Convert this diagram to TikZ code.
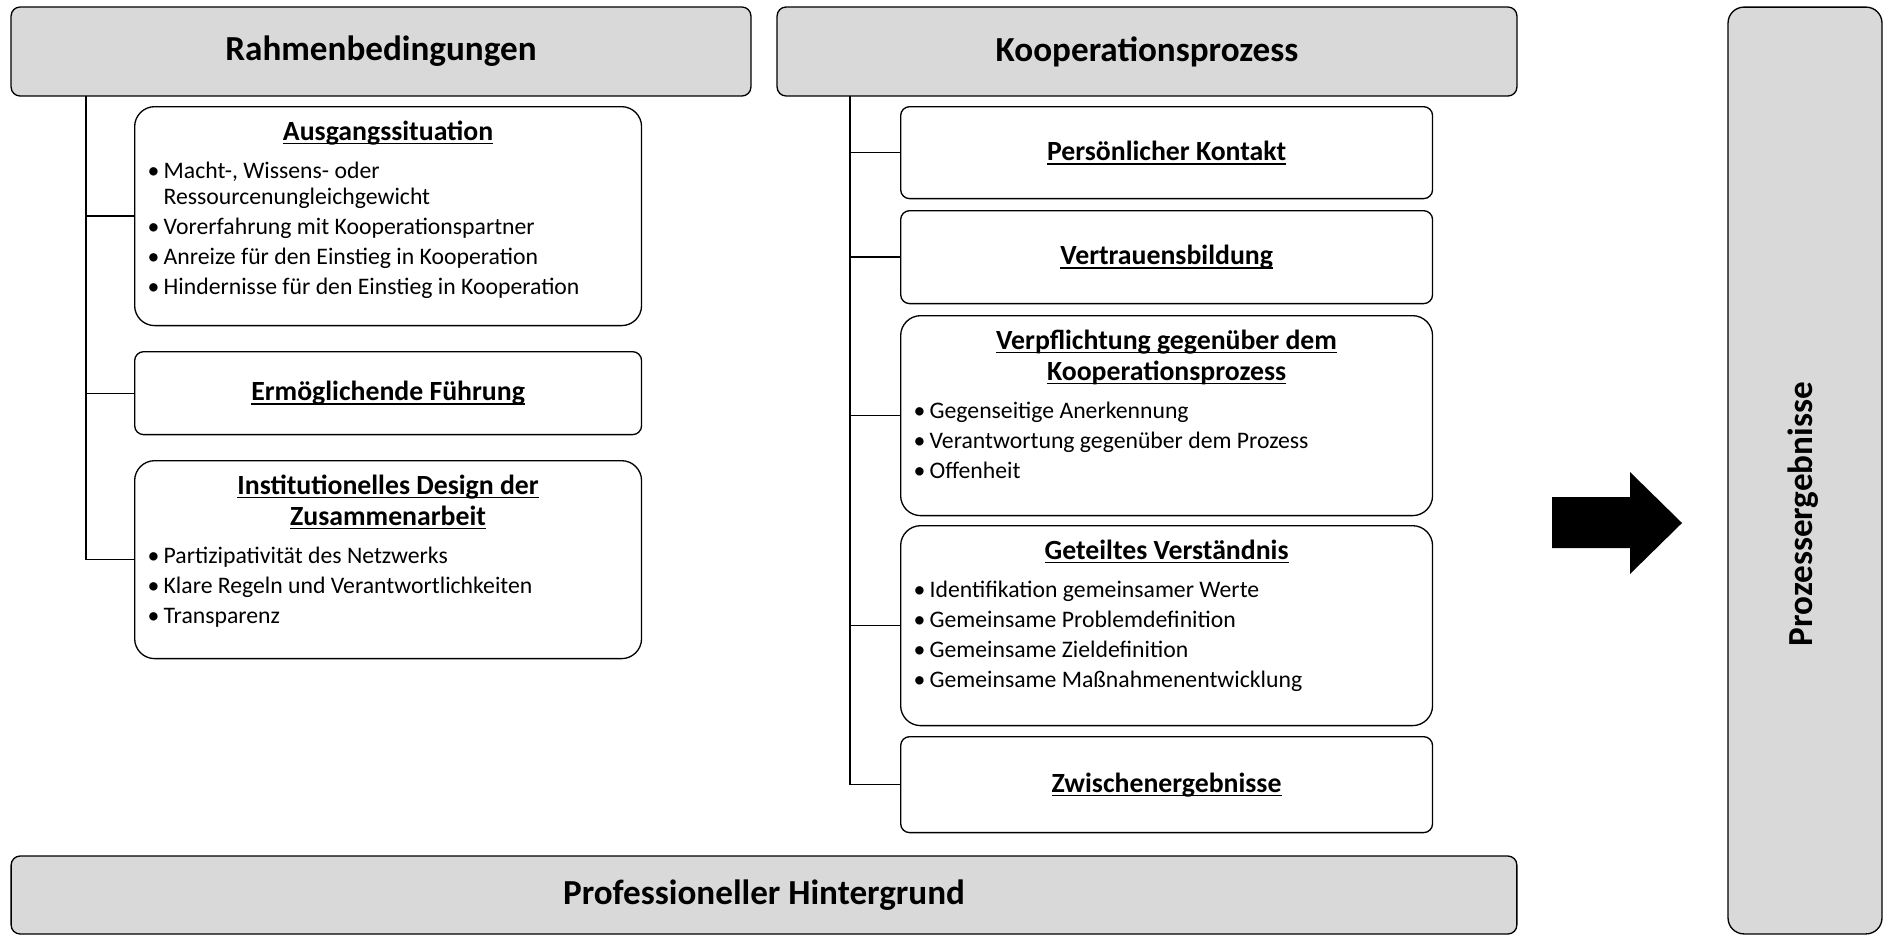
\documentclass[tikz,border=0pt]{standalone}
\usepackage{fontspec}
\setmainfont{Carlito}
\definecolor{hdgray}{RGB}{217,217,217}
\usetikzlibrary{positioning}
\newcommand{\ttlfont}{\fontsize{15.8}{17.6}\selectfont\bfseries}
\newcommand{\sect}[1]{\leavevmode\setbox0=\hbox{#1}\rlap{\rule[-2.4pt]{\wd0}{0.9pt}}\box0}
\newcommand{\itm}[1]{\par\hangindent=0.32cm\hangafter=1\noindent\makebox[0.32cm][l]{\textbullet}#1}
\newcommand{\boxtext}[4]{\parbox[c][#1][t]{#2}{\setlength{\parskip}{0.08cm}\vspace*{0.2cm}{\centering\ttlfont #3\par}\vspace{0.16cm}\raggedright #4}}

\begin{document}
\begin{tikzpicture}[x=0.02cm,y=-0.02cm,
  hdr/.style={draw,line width=0.75pt,fill=hdgray,rounded corners=0.18cm,inner sep=0pt,
              align=center,font=\fontsize{20}{24}\selectfont\bfseries},
  sub/.style={draw,line width=0.75pt,fill=white,rounded corners=0.18cm,inner xsep=0.26cm,
              inner ysep=0pt,anchor=north west,font=\fontsize{13.5}{14.8}\selectfont},
  tall/.style={sub,rounded corners=0.4cm},
  twig/.style={line width=0.75pt}]
  \useasboundingbox (0,0) rectangle (1885,937);

  % headers
  \node[hdr,minimum width=14.8cm,minimum height=1.78cm] (rahmen) at (381,51.5) {Rahmenbedingungen};
  \node[hdr,minimum width=14.8cm,minimum height=1.78cm] (koop) at (1147,51.5) {Kooperationsprozess};
  \node[hdr,minimum width=30.12cm,minimum height=1.56cm] (prof) at (764,895) {Professioneller Hintergrund};
  \node[hdr,rounded corners=0.32cm,minimum width=3.08cm,minimum height=18.54cm] (erg) at (1805,470.5) {};
  \node[rotate=90,font=\fontsize{20}{24}\selectfont\bfseries] (ergtxt) at (1803,514) {Prozessergebnisse};

  % left column
  \node[tall] (ausg) at (134,106) {\boxtext{4.38cm}{9.62cm}{\sect{Ausgangssituation}}{%
    \itm{Macht-, Wissens- oder\newline Ressourcenungleichgewicht}
    \itm{Vorerfahrung mit Kooperationspartner}
    \itm{Anreize für den Einstieg in Kooperation}
    \itm{Hindernisse für den Einstieg in Kooperation}}};
  \node[sub,minimum width=10.14cm,minimum height=1.66cm,font=\ttlfont] (ermo) at (134,351) {\sect{Ermöglichende Führung}};
  \node[tall] (inst) at (134,460) {\boxtext{3.96cm}{9.62cm}{\sect{Institutionelles Design der}\\\sect{Zusammenarbeit}}{%
    \itm{Partizipativität des Netzwerks}
    \itm{Klare Regeln und Verantwortlichkeiten}
    \itm{Transparenz}}};

  % right column
  \node[sub,minimum width=10.64cm,minimum height=1.84cm,font=\ttlfont] (kont) at (900,106) {\sect{Persönlicher Kontakt}};
  \node[sub,minimum width=10.64cm,minimum height=1.86cm,font=\ttlfont] (vert) at (900,210) {\sect{Vertrauensbildung}};
  \node[tall] (verp) at (900,315) {\boxtext{4.0cm}{10.12cm}{\sect{Verpflichtung gegenüber dem}\\\sect{Kooperationsprozess}}{%
    \itm{Gegenseitige Anerkennung}
    \itm{Verantwortung gegenüber dem Prozess}
    \itm{Offenheit}}};
  \node[tall] (vers) at (900,525) {\boxtext{4.0cm}{10.12cm}{\sect{Geteiltes Verständnis}}{%
    \itm{Identifikation gemeinsamer Werte}
    \itm{Gemeinsame Problemdefinition}
    \itm{Gemeinsame Zieldefinition}
    \itm{Gemeinsame Maßnahmenentwicklung}}};
  \node[sub,minimum width=10.64cm,minimum height=1.92cm,font=\ttlfont] (zwis) at (900,736) {\sect{Zwischenergebnisse}};

  % tree lines
  \coordinate (ltrunk) at (86,96);
  \coordinate (rtrunk) at (850,96);
  \foreach \b in {ausg,ermo,inst}
    \draw[twig] (ltrunk) |- (\b.west);
  \foreach \b in {kont,vert,verp,vers,zwis}
    \draw[twig] (rtrunk) |- (\b.west);

  % block arrow
  \fill (1552,497) -- (1630,497) -- (1630,472) -- (1682,523) -- (1630,574) -- (1630,548) -- (1552,548) -- cycle;
\end{tikzpicture}
\end{document}
